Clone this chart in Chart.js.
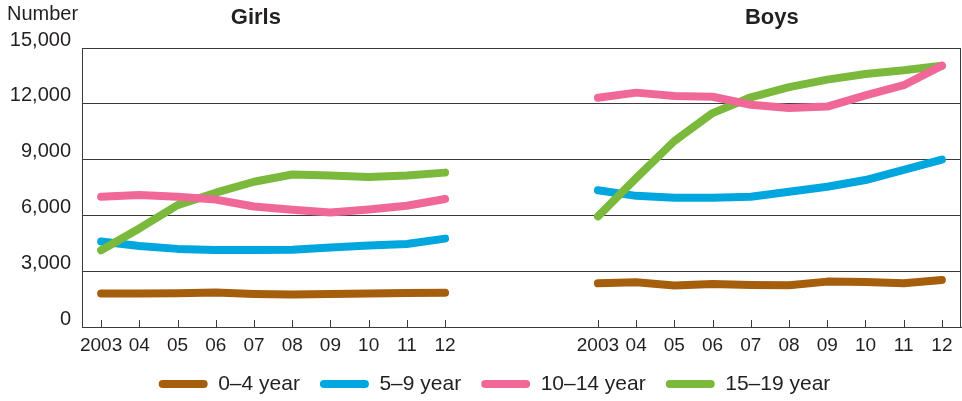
<!DOCTYPE html>
<html>
<head>
<meta charset="utf-8">
<script src="https://cdn.jsdelivr.net/npm/chart.js@4/dist/chart.umd.min.js"></script>
<style>
  html, body { margin: 0; padding: 0; background: #fff; }
  #wrap { width: 962px; height: 401px; }
</style>
</head>
<body>
<div id="wrap"><canvas id="child_chart"></canvas></div>
<script>
// tick labels for one panel, the two panels are put side by side with a gap
const years = ['2003', '04', '05', '06', '07', '08', '09', '10', '11', '12'];
const gap = ['', '', ''];
const seriesNames = ['0\u20134 year', '5\u20139 year', '10\u201314 year', '15\u201319 year'];
const yTicks = [0, 3000, 6000, 9000, 12000, 15000];

// girls
const girls04 = [1800, 1800, 1820, 1850, 1780, 1750, 1780, 1800, 1830, 1840];
const girls59 = [4600, 4350, 4200, 4140, 4140, 4150, 4280, 4380, 4460, 4750];
const girls1014 = [7000, 7100, 7000, 6850, 6480, 6300, 6150, 6320, 6520, 6880];
const girls1519 = [4130, 5300, 6550, 7220, 7810, 8200, 8150, 8060, 8150, 8300];

// boys
const boys04 = [2350, 2400, 2230, 2310, 2260, 2240, 2440, 2420, 2350, 2530];
const boys59 = [7350, 7050, 6950, 6950, 7000, 7270, 7540, 7900, 8450, 9000];
const boys1014 = [12330, 12600, 12420, 12380, 11950, 11780, 11850, 12450, 13000, 14050];
const boys1519 = [5950, 8000, 10000, 11500, 12350, 12900, 13300, 13600, 13800, 14050];

const colors = ['#a45e0c', '#00a6de', '#f06898', '#7ab93c'];

const labels = years.concat(gap, years);

function join(g, b) {
    return g.concat(gap.map(() => null), b);
}

const girlsAll = [girls04, girls59, girls1014, girls1519];
const boysAll = [boys04, boys59, boys1014, boys1519];
const drawOrder = [3, 2, 0, 1];

const datasets = [];
for (let i = 0; i < seriesNames.length; i++) {
    datasets.push({
        label: seriesNames[i],
        data: join(girlsAll[i], boysAll[i]),
        borderColor: colors[i],
        backgroundColor: colors[i],
        borderWidth: 8,
        borderCapStyle: 'round',
        borderJoinStyle: 'round',
        pointRadius: 0,
        pointHoverRadius: 0,
        tension: 0,
        spanGaps: false,
        order: drawOrder[i]
    });
}

const textColor = '#231f20';
const lineColor = '#3a3a3a';

// panel titles, "Number" caption, inner tick marks and the right frame line
const extras = {
    id: 'extras',
    afterLayout(chart) {
        // legend sits a little right of the centre in the original
        chart.legend.left += 28;
    },
    afterDraw(chart) {
        const ctx = chart.ctx;
        const area = chart.chartArea;
        const x = chart.scales.x;
        ctx.save();
        ctx.strokeStyle = lineColor;
        ctx.lineWidth = 1;
        ctx.beginPath();
        for (let i = 0; i < labels.length; i++) {
            if (labels[i] === '') continue;
            const px = Math.round(x.getPixelForValue(i)) + 0.5;
            ctx.moveTo(px, area.bottom);
            ctx.lineTo(px, area.bottom - 7);
        }
        ctx.moveTo(Math.round(area.right) - 0.5, area.top);
        ctx.lineTo(Math.round(area.right) - 0.5, area.bottom);
        ctx.stroke();

        ctx.fillStyle = textColor;
        ctx.textBaseline = 'middle';
        ctx.textAlign = 'center';
        ctx.font = 'bold 22px "Liberation Sans", Arial, sans-serif';
        ctx.fillText('Girls', x.getPixelForValue(4.05), 18);
        ctx.fillText('Boys', x.getPixelForValue(17.55), 18);

        ctx.textAlign = 'left';
        ctx.font = '20px "Liberation Sans", Arial, sans-serif';
        ctx.fillText('Number', 7, 14);
        ctx.restore();
    }
};

const ctx = document.getElementById('child_chart').getContext('2d');
const myChart = new Chart(ctx, {
    type: 'line',
    data: {
        labels: labels,
        datasets: datasets
    },
    options: {
        responsive: true,
        maintainAspectRatio: false,
        animation: false,
        layout: {
            padding: { left: 0, right: 1, top: 48, bottom: -3.5 }
        },
        plugins: {
            legend: {
                position: 'bottom',
                labels: {
                    boxWidth: 49,
                    boxHeight: 8,
                    useBorderRadius: true,
                    borderRadius: 4,
                    padding: 20,
                    color: textColor,
                    font: { family: '"Liberation Sans", Arial, sans-serif', size: 21 },
                    sort: (a, b) => a.datasetIndex - b.datasetIndex,
                    generateLabels: function (chart) {
                        return Chart.defaults.plugins.legend.labels.generateLabels(chart)
                            .map(l => Object.assign(l, { lineWidth: 0 }));
                    }
                }
            },
            tooltip: { enabled: false }
        },
        scales: {
            x: {
                offset: true,
                afterFit: function (scale) { scale.height = 26.5; },
                grid: { display: true, drawOnChartArea: false, drawTicks: false },
                border: { display: true, color: lineColor, width: 1 },
                ticks: {
                    color: textColor,
                    padding: 7.5,
                    autoSkip: false,
                    maxRotation: 0,
                    font: { family: '"Liberation Sans", Arial, sans-serif', size: 19 }
                }
            },
            y: {
                min: 0,
                max: 15000,
                afterFit: function (scale) { scale.width = 82; },
                afterBuildTicks: function (scale) {
                    scale.ticks = yTicks.map(v => ({ value: v }));
                },
                grid: { color: lineColor, drawTicks: false },
                border: { display: true, color: lineColor, width: 1 },
                ticks: {
                    color: textColor,
                    padding: 11,
                    labelOffset: -8,
                    font: { family: '"Liberation Sans", Arial, sans-serif', size: 20 },
                    callback: function (value) { return value.toLocaleString('en-US'); }
                }
            }
        }
    },
    plugins: [extras]
});
</script>
</body>
</html>
